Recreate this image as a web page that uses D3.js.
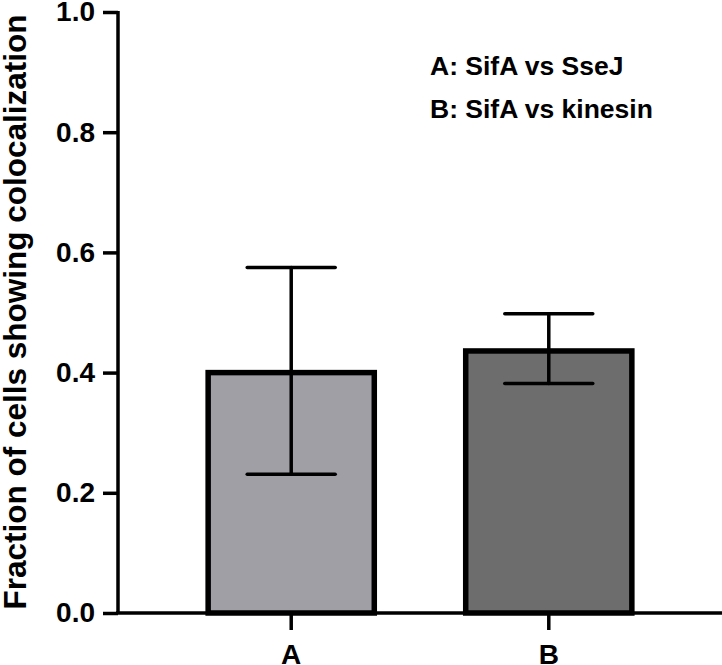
<!DOCTYPE html>
<html><head><meta charset="utf-8">
<script src="https://cdn.jsdelivr.net/npm/d3@7"></script>
<style>body{margin:0;background:#fff}svg{display:block}text{font-family:"Liberation Sans",Arial,sans-serif;font-weight:bold}</style>
</head><body>
<script>
const categories = ["A","B"];
const means = [0.40, 0.436];
const errLow = [0.231, 0.382];
const errHigh = [0.575, 0.498];
const fills = ["#a09fa5","#6d6d6d"];
const yTicks = [0.0,0.2,0.4,0.6,0.8,1.0];
const legendLines = ["A: SifA vs SseJ","B: SifA vs kinesin"];
const yTitle = "Fraction of cells showing colocalization";

const W=722,H=665;
const svg=d3.select("body").append("svg").attr("width",W).attr("height",H);
const y=d3.scaleLinear().domain([0,1]).range([613,12]);
const x=d3.scaleBand().domain(categories).range([118,722]).paddingInner(0.355).paddingOuter(0.35);

// bars
svg.selectAll("rect.bar").data(categories).enter().append("rect")
 .attr("x",d=>x(d)).attr("width",x.bandwidth())
 .attr("y",(d,i)=>y(means[i])).attr("height",(d,i)=>y(0)-y(means[i]))
 .attr("fill",(d,i)=>fills[i]).attr("stroke","#000").attr("stroke-width",5.5);

// error bars
const capW=88;
categories.forEach((c,i)=>{
  const cx=x(c)+x.bandwidth()/2;
  const g=svg.append("g").attr("stroke","#000").attr("stroke-width",3.5).attr("stroke-linecap","round");
  g.append("line").attr("x1",cx).attr("x2",cx).attr("y1",y(errLow[i])).attr("y2",y(errHigh[i]));
  g.append("line").attr("x1",cx-capW/2).attr("x2",cx+capW/2).attr("y1",y(errHigh[i])).attr("y2",y(errHigh[i]));
  g.append("line").attr("x1",cx-capW/2).attr("x2",cx+capW/2).attr("y1",y(errLow[i])).attr("y2",y(errLow[i]));
});

// y axis
const yAxis=svg.append("g").attr("transform","translate(118,0)")
 .call(d3.axisLeft(y).tickValues(yTicks).tickFormat(d3.format(".1f")).tickSize(15).tickPadding(8));
yAxis.select(".domain").attr("stroke","#000").attr("stroke-width",3.5).attr("d","M0,11V614");
yAxis.selectAll(".tick line").attr("stroke","#000").attr("stroke-width",3.5);
yAxis.selectAll(".tick text").attr("font-size",28).attr("fill","#000").style("font-weight","bold").attr("font-family","'Liberation Sans',Arial,sans-serif");

// x axis
const xAxis=svg.append("g").attr("transform","translate(0,613)")
 .call(d3.axisBottom(x).tickSize(17).tickPadding(14));
xAxis.select(".domain").attr("stroke","#000").attr("stroke-width",3.5).attr("d","M116,0H722");
xAxis.selectAll(".tick line").attr("stroke","#000").attr("stroke-width",3.5);
xAxis.selectAll(".tick text").attr("font-size",28).attr("fill","#000").style("font-weight","bold").attr("font-family","'Liberation Sans',Arial,sans-serif");

// y title
svg.append("text").attr("transform","translate(26,312) rotate(-90)").attr("text-anchor","middle")
 .attr("font-size",31.5).attr("fill","#000").text(yTitle);

// legend
svg.selectAll("text.leg").data(legendLines).enter().append("text").attr("class","leg")
 .attr("x",430).attr("y",(d,i)=>75+i*43).attr("font-size",26.5).attr("fill","#000").text(d=>d);
</script>
</body></html>
